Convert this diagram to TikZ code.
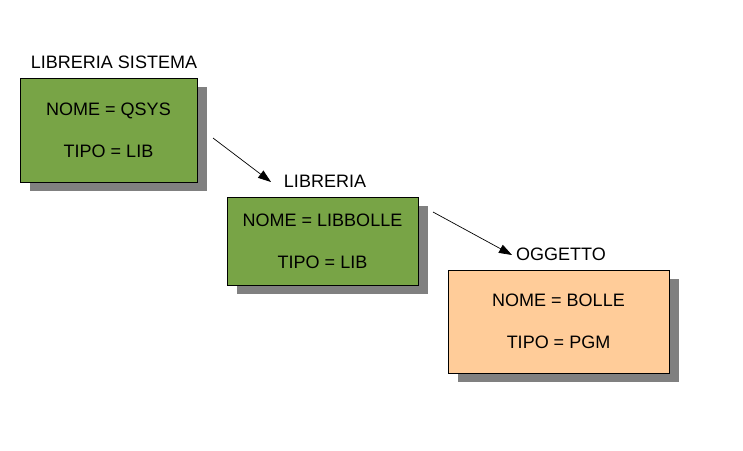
\documentclass[tikz,border=0pt]{standalone}
\usepackage{fontspec}
\setmainfont{Liberation Sans}
\usetikzlibrary{arrows.meta, shadows}
\definecolor{libgreen}{RGB}{120,164,70}
\definecolor{objorange}{RGB}{255,204,153}
\definecolor{boxshadow}{RGB}{128,128,128}

\begin{document}
\begin{tikzpicture}[
    x=1pt, y=-1pt,
    every node/.style = {font=\fontsize{18}{42}\selectfont},
    entry/.style  = {draw, line width=0.8pt, align=center, inner sep=0pt,
                     drop shadow={shadow xshift=10pt, shadow yshift=-9pt,
                                  fill=boxshadow, opacity=1}},
    title/.style  = {anchor=base, inner sep=0pt},
    link/.style   = {-{Triangle[length=13pt, width=9pt]}, line width=0.7pt}
  ]
  \useasboundingbox (0,0) rectangle (743,450);

  % the three objects (library, library, object)
  \node[entry, fill=libgreen, minimum width=177pt, minimum height=104pt]
       (qsys) at (108.5,130) {NOME = QSYS\\TIPO = LIB};
  \node[entry, fill=libgreen, minimum width=191pt, minimum height=88pt]
       (libbolle) at (322.5,241) {NOME = LIBBOLLE\\TIPO = LIB};
  \node[entry, fill=objorange, minimum width=221pt, minimum height=103pt]
       (bolle) at (558.5,321.5) {NOME = BOLLE\\TIPO = PGM};

  % headings
  \node[title] (sysname) at (114,68)  {LIBRERIA SISTEMA};
  \node[title] (libname) at (325,187) {LIBRERIA};
  \node[title] (objname) at (561,260) {OGGETTO};

  % containment arrows
  \coordinate (from1) at (213,138);
  \coordinate (to1)   at (271,182);
  \coordinate (from2) at (433,212);
  \coordinate (to2)   at (512,255);
  \draw[link] (from1) -- (to1);
  \draw[link] (from2) -- (to2);
\end{tikzpicture}
\end{document}
